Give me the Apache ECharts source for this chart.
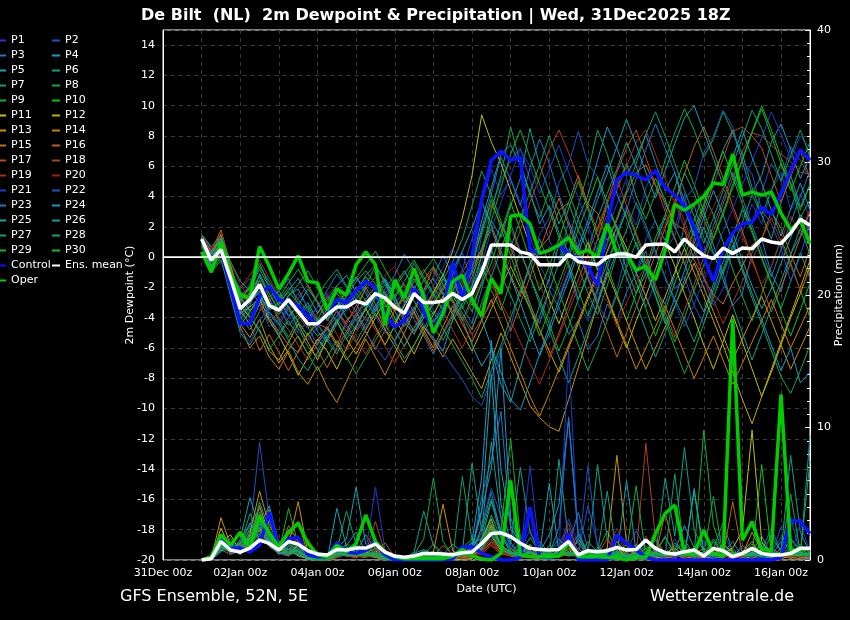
<!DOCTYPE html>
<html>
<head>
<meta charset="utf-8">
<title>De Bilt (NL) 2m Dewpoint &amp; Precipitation</title>
<script src="https://cdn.jsdelivr.net/npm/echarts@6/dist/echarts.min.js"></script>
<style>
  html, body { margin: 0; padding: 0; background: #000; }
  #chart { width: 850px; height: 620px; }
</style>
</head>
<body>
<div id="chart"></div>
<script>
// GFS ensemble meteogram: 2m dewpoint (left axis) + 6h precipitation (right axis)
// 64 steps, 6-hourly, 01Jan 00z .. 16Jan 18z; x axis = hours since 31Dec 00z

const FONT = "'DejaVu Sans', sans-serif";

const dayLabels = ['31Dec 00z', '01Jan 00z', '02Jan 00z', '03Jan 00z', '04Jan 00z', '05Jan 00z',
  '06Jan 00z', '07Jan 00z', '08Jan 00z', '09Jan 00z', '10Jan 00z', '11Jan 00z', '12Jan 00z',
  '13Jan 00z', '14Jan 00z', '15Jan 00z', '16Jan 00z'];

const memberNames = ['P1', 'P2', 'P3', 'P4', 'P5', 'P6', 'P7', 'P8', 'P9', 'P10',
  'P11', 'P12', 'P13', 'P14', 'P15', 'P16', 'P17', 'P18', 'P19', 'P20',
  'P21', 'P22', 'P23', 'P24', 'P25', 'P26', 'P27', 'P28', 'P29', 'P30'];

const memberColors = ['#1c3ccc', '#1e52c2', '#1e78c8', '#1a98c8', '#14a2b4', '#10a08a', '#10a06a', '#10a84e', '#14b036', '#10c018',
  '#c0c010', '#c0ae00', '#c89600', '#c88400', '#c07010', '#b86414', '#b44e14', '#b04020', '#a82c18', '#982018',
  '#1c3ccc', '#1e52c2', '#1e78c8', '#1a98c8', '#14a2b4', '#10a08a', '#10a06a', '#10a84e', '#14b036', '#10c018'];

// ── 2m dewpoint (°C) ──
const ctlDew  = [1.2,-0.1,0.4,-2.0,-4.4,-4.4,-2.6,-1.9, -2.8,-3.0,-3.2,-3.9,-4.5,-3.7,-2.8,-3.0, -2.2,-1.6,-2.0,-3.8,-4.6,-4.2,-2.1,-3.6, -4.8,-3.6,-0.3,-2.8,0.0,3.8,6.4,7.0, 6.4,6.6,0.5,0.25,0.45,0.8,0.2,-0.1, -0.6,-1.9,2.2,5.1,5.6,5.4,5.1,5.7, 4.6,4.1,3.4,2.0,0.0,-1.6,0.5,1.6, 2.2,2.3,3.3,2.8,4.2,5.7,7.1,6.4];
const operDew = [0.35,-1.0,1.0,-1.1,-2.5,-2.7,0.7,-0.6, -2.1,-1.1,0.1,-1.6,-1.7,-3.5,-2.1,-2.5, -0.5,0.35,-0.5,-4.5,-1.5,-2.7,-0.75,-2.6, -5.0,-3.7,-1.6,-1.2,-2.8,-3.9,-1.4,-2.4, 2.7,2.8,2.2,0.25,0.45,0.8,1.3,0.25, 0.45,0.0,2.2,0.25,0.25,-0.85,-0.6,-1.5, 0.45,3.5,3.1,3.5,4.0,4.9,4.8,6.8, 4.1,4.3,4.1,4.3,2.9,1.8,2.4,0.9];
const meanDew = [1.2,-0.2,0.5,-1.4,-3.4,-2.8,-1.8,-3.2, -3.5,-2.8,-3.6,-4.4,-4.4,-3.8,-3.3,-3.3, -2.9,-3.1,-2.4,-2.7,-3.3,-3.7,-2.4,-3.0, -3.0,-2.9,-2.4,-2.8,-2.4,-1.0,0.8,0.8, 0.8,0.35,0.2,-0.5,-0.5,-0.5,0.2,-0.3, -0.4,-0.5,0.0,0.2,0.2,0.0,0.8,0.85, 0.85,0.35,1.2,0.6,0.1,-0.1,0.6,0.25, 0.6,0.55,1.2,1.0,0.9,1.6,2.5,2.1];

const dp01 = [1.2,0.2,0.8,-1.5,-3.5,-4.2,-2.5,-3.8, -4.5,-3.2,-4.8,-5.5,-4.6,-3.9,-2.8,-3.6, -2.4,-1.8,-2.6,-3.9,-4.4,-3.1,-1.6,-2.3, -3.5,-4.2,-2.1,-0.8,1.2,3.5,5.8,4.1, 5.2,3.6,1.4,-0.5,-1.8,-2.6,-0.9,-3.1, -4.2,-2.4,0.3,1.6,3.4,2.1,4.6,5.8, 3.3,1.9,4.2,0.8,-1.4,-3.2,-2.1,0.4, 1.6,3.5,2.2,4.4,5.6,3.1,4.2,2.5];
const dp02 = [1.0,-0.4,0.6,-1.2,-2.9,-3.8,-3.1,-4.6, -4.1,-3.3,-4.2,-5.2,-6.1,-5.0,-4.2,-2.4, -1.3,-2.2,-3.4,-4.3,-3.1,-2.2,-1.0,-3.2, -4.3,-3.0,-1.2,0.3,-1.8,1.4,3.2,5.1, 6.4,7.2,5.1,3.2,1.1,-0.2,2.3,1.2, -1.3,-3.1,-4.2,-2.2,0.4,-1.1,1.2,2.4, 0.2,-2.1,-1.3,-3.2,-4.4,-2.3,-0.8,1.3, 3.1,2.2,4.3,6.2,5.1,7.3,6.4,5.2];
const dp03 = [1.5,0.6,1.1,-0.8,-2.2,-3.1,-2.0,-2.9, -2.3,-1.4,-3.2,-4.1,-3.3,-2.2,-1.1,-2.0, -3.1,-4.2,-3.4,-2.1,-1.2,0.2,-0.9,-2.4, -1.3,0.1,-1.2,-3.3,-4.4,-2.1,0.3,2.2, 1.1,-1.3,-3.2,-4.4,-2.2,-3.3,-5.1,-4.2, -6.1,-5.2,-3.1,-4.2,-2.3,-1.1,0.4,-2.2, -3.1,-1.2,2.2,3.4,1.3,0.2,-1.1,-3.2, -2.4,0.3,1.2,-1.1,-2.3,0.2,1.4,3.1];
const dp04 = [1.3,0.0,0.9,-1.9,-4.1,-3.2,-1.1,-2.4, -3.6,-2.5,-2.1,-3.4,-4.9,-5.6,-4.4,-3.1, -4.2,-3.5,-2.2,-1.4,-2.6,-4.1,-3.3,-4.6, -5.3,-6.2,-4.1,-2.2,-0.3,2.4,4.6,6.8, 7.4,6.1,4.3,2.2,3.4,1.6,0.3,2.5, 4.1,6.4,8.6,7.2,5.4,6.6,8.1,6.2, 4.4,5.6,3.2,1.4,3.3,5.2,7.1,8.4, 6.3,4.2,5.4,7.6,8.8,7.1,5.2,6.6];
const dp05 = [1.1,-0.6,0.3,-1.0,-2.6,-2.1,-0.8,-2.0, -3.2,-4.5,-3.8,-3.0,-4.2,-3.6,-2.8,-4.0, -4.8,-3.9,-2.7,-1.8,-3.0,-4.3,-5.1,-3.6, -2.4,-1.1,-2.9,-4.1,-5.8,-7.2,-6.1,-8.4, -9.6,-7.3,-5.1,-3.2,-1.4,0.8,-0.6,-2.8, -1.2,0.6,2.4,1.1,-0.8,-2.4,-1.1,0.9, 2.6,1.2,-0.4,-2.3,-3.6,-1.8,0.4,1.6, -0.2,-1.9,-3.4,-2.1,-0.4,1.3,2.8,1.7];
const dp06 = [1.4,0.3,1.3,-0.6,-2.8,-2.4,-1.5,-3.0, -3.8,-3.0,-3.6,-4.4,-5.2,-4.8,-3.5,-2.6, -1.6,-0.9,-1.8,-2.5,-3.6,-4.6,-3.4,-2.2, -1.4,-2.5,-3.6,-2.2,-1.0,0.6,2.4,1.3, 3.4,5.2,8.5,6.1,4.3,2.2,3.6,1.8, 0.4,2.6,4.2,5.8,7.6,6.0,4.1,2.3, 1.1,3.4,5.6,4.2,2.6,0.8,-1.1,0.6, 2.3,4.1,2.8,1.2,3.6,5.4,3.3,4.8];
const dp07 = [0.9,-0.8,0.4,-1.6,-3.9,-4.8,-3.6,-2.6, -2.2,-3.4,-4.7,-5.9,-6.6,-5.4,-4.1,-4.9, -5.6,-4.4,-3.2,-2.3,-3.5,-2.6,-1.4,-2.7, -3.8,-2.6,-1.5,-2.4,-3.6,-1.6,0.5,-1.2, -2.5,-4.1,-5.6,-3.9,-2.2,-0.4,1.3,-0.6, -2.4,-3.8,-1.9,0.2,1.8,3.6,2.1,0.4, -1.3,-2.8,-4.1,-5.6,-3.8,-2.1,-0.3,1.4, 3.2,1.6,-0.1,-1.8,-3.4,-1.6,0.3,-1.4];
const dp08 = [1.2,0.4,1.0,-1.1,-3.0,-1.8,-0.4,-1.9, -2.9,-2.0,-2.8,-3.6,-2.5,-1.6,-0.8,-1.9, -2.8,-1.9,-0.6,-1.7,-2.9,-3.8,-2.6,-1.5, -0.6,-1.8,-3.0,-4.2,-2.7,0.2,3.1,5.4, 8.6,6.2,4.1,2.6,4.4,3.0,1.2,3.4, 5.6,8.4,6.8,4.6,6.2,4.0,2.5,4.2, 6.4,8.2,9.8,8.4,6.6,7.8,9.6,8.2, 6.8,4.6,2.8,4.4,6.2,4.8,2.6,3.8];
const dp09 = [1.0,-0.2,0.7,-1.3,-3.3,-2.6,-1.2,-2.7, -4.2,-5.3,-4.1,-3.2,-4.4,-5.5,-6.4,-5.1, -3.9,-2.8,-1.9,-3.1,-4.3,-3.2,-2.1,-3.3, -4.6,-5.5,-4.2,-3.1,-1.9,-0.6,-2.2,-3.5, -1.6,0.4,-1.3,-2.8,-4.4,-6.2,-4.6,-2.8, -1.0,1.2,3.4,2.0,0.2,1.8,3.6,5.2, 3.8,2.0,0.6,2.4,4.2,2.8,1.0,-0.8, -2.6,-4.2,-2.4,-0.6,1.2,-0.4,-2.2,-4.0];
const dp10 = [1.3,0.1,1.2,-0.7,-2.4,-3.0,-2.2,-3.4, -3.0,-2.3,-3.0,-3.9,-4.5,-3.4,-2.4,-3.2, -2.2,-1.3,-2.2,-3.3,-2.5,-1.8,-2.9,-4.0, -3.1,-2.2,-0.9,-2.0,-3.2,-1.8,-0.4,1.6, 3.6,1.8,-0.2,-2.2,-0.6,1.2,3.2,5.0, 3.2,1.4,-0.6,-2.4,-4.2,-2.4,-0.6,1.3, 2.8,4.6,6.4,4.8,3.0,1.2,2.8,4.6, 6.4,8.2,9.8,8.0,6.2,4.4,6.0,7.6];
const dp11 = [1.1,-0.3,0.6,-2.0,-3.7,-3.3,-2.7,-4.2, -5.2,-6.4,-7.8,-6.6,-5.4,-6.2,-7.4,-6.0, -4.6,-3.4,-4.6,-5.8,-4.5,-3.2,-2.1,-3.4, -2.3,-1.2,0.4,2.6,5.4,9.4,7.6,6.2, 4.4,2.6,0.8,-1.0,-2.8,-4.4,-2.6,-0.8, 1.0,-0.8,-2.6,-4.4,-6.0,-4.2,-2.6,-0.8, 1.0,-0.6,-2.4,-4.0,-5.8,-7.4,-5.6,-3.8, -5.6,-7.4,-9.2,-7.6,-5.8,-4.0,-2.4,-0.6];
const dp12 = [1.3,0.2,1.5,-0.9,-3.2,-4.0,-4.8,-6.2, -6.8,-5.6,-4.4,-5.6,-6.8,-5.4,-4.2,-5.4, -6.4,-5.2,-4.0,-2.8,-4.0,-5.2,-6.4,-5.0, -3.8,-2.6,-3.8,-5.0,-6.2,-4.8,-3.4,-2.0, -0.6,-2.0,-3.4,-4.8,-6.2,-7.6,-6.0,-4.4, -2.8,-1.2,0.4,2.0,0.6,-1.0,-2.6,-4.2, -2.6,-1.0,0.6,-1.0,-2.6,-4.2,-5.8,-7.6, -9.4,-11.0,-9.2,-7.4,-5.6,-3.8,-2.0,-0.2];
const dp13 = [1.0,-0.5,0.2,-2.2,-4.4,-5.3,-4.1,-5.8, -7.0,-6.1,-5.2,-6.4,-5.5,-4.6,-5.7,-6.8, -5.9,-4.8,-3.7,-4.8,-5.9,-7.0,-5.8,-4.6, -5.5,-6.6,-5.4,-6.5,-7.6,-8.7,-6.8,-5.0, -6.6,-8.2,-9.8,-10.6,-11.2,-11.5,-9.4,-7.3, -5.2,-3.1,-1.0,-2.6,-4.2,-5.8,-7.4,-6.0, -4.6,-3.2,-1.8,-0.4,-2.0,-3.6,-5.2,-6.8, -5.4,-4.0,-2.6,-4.2,-5.8,-7.4,-6.0,-4.6];
const dp14 = [1.2,0.0,0.8,-1.7,-4.6,-6.0,-5.2,-6.6, -7.4,-6.2,-7.6,-8.4,-7.2,-8.6,-9.6,-8.2, -6.8,-5.4,-6.6,-7.8,-6.4,-5.0,-3.6,-4.8, -6.0,-4.6,-3.2,-4.4,-5.6,-4.2,-2.8,-4.4, -6.0,-7.6,-9.2,-10.5,-9.0,-7.4,-5.8,-4.2, -2.6,-1.0,-2.6,-4.2,-5.8,-7.4,-6.0,-4.6, -3.2,-4.8,-6.4,-8.0,-6.6,-5.2,-6.8,-8.4, -7.0,-5.6,-4.2,-2.8,-4.4,-6.0,-4.6,-3.2];
const dp15 = [1.4,0.4,1.8,-0.5,-2.7,-3.5,-2.9,-4.0, -4.9,-5.8,-6.3,-5.1,-4.4,-4.7,-5.9,-4.2, -3.5,-2.0,-3.1,-4.8,-5.5,-4.3,-3.6,-2.2, -0.7,-2.4,-3.0,-1.8,-0.6,0.5,1.9,0.1, -1.2,-2.6,-0.4,0.6,1.3,3.1,3.6,5.4, 3.5,2.9,1.1,2.4,4.2,5.6,6.1,4.7, 3.6,2.2,1.8,-0.2,-1.4,-2.5,-3.1,-1.7, -0.6,0.8,1.2,3.0,1.9,0.2,-1.3,0.6];
const dp16 = [1.0,-0.7,0.1,-1.4,-3.6,-4.4,-6.2,-5.1, -6.3,-7.5,-6.2,-5.0,-6.1,-7.3,-6.0,-4.9, -3.7,-4.9,-6.1,-4.8,-3.5,-2.4,-3.7,-5.0, -6.2,-5.0,-3.7,-2.6,-1.3,0.4,-1.4,-3.2, -4.9,-3.1,-1.3,0.5,2.2,3.9,2.1,0.4, -1.4,-3.2,-4.9,-6.6,-5.0,-3.3,-1.5,0.2, 1.9,3.7,5.5,7.3,8.6,7.0,5.2,3.4, 1.7,-0.1,-1.9,-3.6,-2.0,-0.4,1.3,3.0];
const dp17 = [1.3,0.3,1.4,-1.0,-2.5,-2.0,-3.1,-4.3, -3.6,-2.8,-3.9,-4.7,-3.8,-2.6,-3.5,-4.4, -3.2,-2.1,-1.3,-2.4,-3.6,-2.7,-1.6,-0.8, -1.9,-3.1,-2.2,-1.0,0.1,1.8,3.5,2.2, 0.6,-1.2,-3.0,-4.8,-6.6,-5.0,-3.2,-1.5, 0.2,1.9,3.7,5.6,7.2,8.4,6.6,4.8, 3.0,1.3,-0.5,1.2,3.0,4.8,6.5,8.3, 8.6,8.0,7.2,5.4,3.6,5.3,7.0,5.2];
const dp18 = [1.1,-0.1,1.0,-1.6,-3.1,-2.3,-1.6,-2.9, -4.0,-4.8,-5.8,-6.8,-5.7,-4.5,-3.6,-4.5, -5.5,-6.4,-5.2,-4.1,-3.0,-4.0,-5.1,-4.0, -2.9,-1.8,-2.8,-3.9,-5.1,-4.1,-3.0,-1.8, 0.0,1.8,3.6,5.3,7.1,8.4,6.9,5.2, 3.4,1.7,3.5,5.2,3.4,1.6,-0.1,-1.8, -3.6,-5.3,-3.5,-1.8,0.0,1.7,3.5,5.2, 7.0,8.2,8.0,7.4,6.8,6.3,5.6,5.5];
const dp19 = [1.2,0.1,0.5,-1.2,-2.0,-1.2,-0.2,-1.4, -2.5,-3.6,-2.7,-1.8,-2.9,-4.0,-5.1,-6.2, -5.0,-3.9,-4.8,-5.9,-7.0,-5.8,-4.6,-3.5, -2.4,-3.6,-4.8,-6.0,-4.6,-3.2,-1.8,-3.0, -4.2,-5.6,-7.0,-8.4,-6.8,-5.2,-3.6,-2.0, -0.4,1.2,2.8,4.4,6.0,7.6,8.4,6.8, 5.2,3.6,2.0,0.4,-1.2,-2.8,-4.4,-3.0, -1.6,-0.2,1.2,2.6,1.0,-0.6,-2.2,-0.8];
const dp20 = [1.4,0.5,1.6,-0.4,-1.8,-2.8,-3.5,-2.6, -3.4,-4.4,-5.0,-4.1,-3.7,-2.5,-1.9,-3.1, -4.2,-2.9,-2.3,-1.2,-0.6,-1.9,-2.5,-1.6, -0.8,-2.3,-3.0,-4.5,-2.9,-1.6,-0.9,0.8, 1.9,0.2,-1.1,-1.7,-3.5,-2.2,-0.4,0.7, -1.1,-2.3,-2.9,-4.6,-3.0,-1.7,-0.5,0.9, 2.1,3.8,2.4,0.6,1.9,3.3,4.6,3.1, 1.4,-0.3,-1.8,-0.6,1.1,2.7,1.5,3.2];
const dp21 = [1.0,-0.4,0.3,-2.4,-4.8,-5.6,-4.2,-3.3, -2.6,-3.8,-5.0,-4.2,-3.3,-2.4,-3.6,-4.7, -3.8,-2.7,-3.9,-5.0,-4.1,-3.0,-1.9,-2.8, -1.9,-0.7,0.6,-0.8,-2.1,-0.4,1.8,3.6, 5.4,7.1,6.0,4.2,5.8,7.4,5.6,3.9, 2.1,0.4,1.8,3.5,5.2,3.4,1.8,0.2, -1.4,-3.0,-4.6,-3.1,-1.5,0.1,1.7,3.2, 4.8,6.3,7.9,9.6,8.1,6.5,8.0,7.2];
const dp22 = [1.2,0.2,1.1,-0.9,-2.1,-1.4,-2.6,-3.7, -4.5,-3.4,-2.4,-3.3,-4.4,-5.3,-6.2,-5.2, -4.1,-5.0,-5.9,-6.8,-5.6,-4.5,-3.4,-4.4, -5.4,-6.3,-7.2,-8.1,-9.2,-9.8,-8.0,-6.1, -4.6,-2.1,-0.9,1.5,2.6,4.9,6.1,8.3, 6.2,5.3,3.0,2.1,-0.2,-1.1,-3.3,-1.6, 0.5,1.4,3.8,4.6,6.9,8.0,9.7,8.6, 6.3,5.5,3.1,2.2,0.6,-1.6,0.1,2.3];
const dp23 = [1.3,-0.1,0.9,-1.8,-3.8,-3.0,-2.3,-4.0, -5.1,-4.0,-3.1,-4.6,-5.8,-4.7,-3.9,-2.8, -3.6,-4.7,-3.5,-2.4,-1.5,-2.9,-4.1,-5.2, -6.4,-5.1,-3.9,-2.4,-0.8,1.9,4.2,6.6, 5.1,3.4,5.9,7.8,6.2,4.1,2.4,0.6, -1.3,-2.9,-0.8,1.4,3.1,5.2,7.1,8.8, 7.2,5.6,3.7,1.9,0.2,2.1,3.8,5.6, 3.9,2.1,0.4,-1.3,0.5,2.3,4.0,5.7];
const dp24 = [1.1,-0.6,0.4,-1.5,-3.4,-4.5,-3.1,-1.9, -2.8,-3.9,-3.2,-2.1,-3.0,-4.2,-3.3,-2.2, -1.3,-2.4,-3.6,-2.7,-1.8,-0.9,-2.1,-3.2, -4.3,-3.4,-2.3,-1.2,-2.6,-4.1,-5.9,-7.6, -9.4,-10.1,-8.3,-6.4,-4.6,-2.8,-1.1,0.7, 2.4,4.3,6.1,4.2,2.6,0.8,-0.9,-2.6, -4.4,-2.7,-0.9,0.9,2.6,4.4,2.8,1.0, -0.7,-2.4,-4.1,-5.8,-7.5,-6.0,-8.3,-7.6];
const dp25 = [1.2,0.2,1.2,-1.1,-2.6,-3.6,-2.5,-3.5, -3.1,-2.2,-1.4,-2.5,-3.7,-2.8,-1.9,-1.2, -2.3,-3.4,-2.6,-1.5,-2.7,-3.8,-4.9,-4.0, -3.1,-2.0,-0.9,0.4,1.9,3.7,2.1,0.4, -1.3,-3.0,-4.8,-6.5,-5.0,-3.2,-1.5,0.3, 2.0,3.8,5.5,7.3,9.1,7.4,5.6,3.9, 5.7,7.5,9.2,10.0,8.3,6.5,4.8,6.6, 8.4,6.6,4.9,3.1,1.4,3.2,4.9,3.1];
const dp26 = [0.8,-0.9,0.0,-2.6,-5.0,-5.8,-4.6,-3.6, -4.4,-5.5,-6.7,-7.5,-6.3,-5.2,-4.3,-5.4, -4.5,-3.3,-2.5,-3.6,-4.8,-5.9,-4.7,-3.8, -2.6,-1.4,-2.5,-3.7,-4.8,-3.0,-1.3,0.5, 2.2,0.4,-1.3,-3.1,-4.8,-6.6,-8.3,-6.6, -4.8,-3.1,-1.3,0.4,-1.3,-3.1,-4.8,-6.6, -5.0,-3.3,-1.5,0.2,2.0,0.3,-1.5,-3.2, -5.0,-6.8,-5.1,-3.3,-1.6,0.2,1.9,0.2];
const dp27 = [1.5,0.7,1.4,-0.3,-1.6,-2.2,-1.3,-2.4, -3.5,-2.6,-1.8,-0.9,-2.0,-3.2,-4.3,-3.4, -2.3,-1.2,-0.5,-1.6,-2.7,-1.6,-0.4,-1.5, -2.6,-1.5,-0.3,1.2,3.4,5.7,4.1,2.4, 0.6,2.5,4.3,6.1,8.0,6.2,4.3,2.5, 0.8,-0.9,0.9,2.6,4.4,6.2,8.1,9.6, 8.0,6.2,4.4,2.7,0.9,2.6,4.4,6.1, 7.9,9.7,8.5,6.8,5.0,6.7,8.4,6.6];
const dp28 = [1.1,-0.3,0.7,-1.4,-3.2,-3.9,-4.9,-6.1, -5.2,-4.2,-5.3,-6.4,-7.5,-6.6,-5.5,-6.6, -7.7,-6.6,-5.5,-4.4,-5.6,-6.7,-5.8,-4.7, -3.6,-4.7,-5.8,-6.9,-8.0,-9.3,-7.5,-5.8, -4.0,-2.3,-0.5,1.2,-0.5,-2.3,-4.0,-5.8, -7.5,-6.0,-4.2,-2.5,-0.7,1.0,-0.7,-2.5, -4.2,-6.0,-7.7,-6.2,-4.4,-2.7,-0.9,0.8, -0.9,-2.7,-4.4,-6.2,-7.9,-9.0,-7.5,-5.8];
const dp29 = [1.3,0.0,1.0,-1.2,-2.9,-2.0,-0.6,-1.6, -2.7,-1.7,-0.8,-1.9,-3.0,-4.1,-3.2,-2.3, -1.4,-0.5,0.4,-0.8,-1.9,-3.0,-2.1,-1.0, -0.1,-1.2,-2.3,-3.4,-1.9,0.1,2.4,4.6, 6.8,8.4,6.6,4.8,3.1,1.3,-0.4,-2.2, -3.9,-2.1,-0.4,1.4,3.1,1.4,-0.4,-2.1, -3.9,-5.6,-4.0,-2.2,-0.5,1.3,3.0,4.8, 6.5,8.3,10.0,8.4,6.6,4.9,3.1,4.8];
const dp30 = [0.9,-1.0,-0.2,-2.3,-4.5,-3.6,-2.8,-1.8, -2.5,-3.3,-4.3,-5.2,-4.1,-3.0,-2.1,-3.1, -2.0,-2.9,-3.9,-3.0,-2.0,-1.1,-0.2,-1.3, -2.4,-3.5,-2.6,-1.5,-0.3,1.6,3.8,1.9, 0.1,-1.7,-3.4,-5.2,-3.5,-1.7,0.0,1.8, 3.5,5.3,3.6,1.8,0.1,-1.7,-3.4,-5.2, -3.5,-1.7,0.0,1.8,3.5,5.3,7.0,5.3, 3.5,1.8,0.0,-1.7,-3.5,-5.2,-3.5,-1.7];

// ── 6h precipitation (mm) ──
const ctlPrec  = [0,0.1,1.6,0.9,0.9,0.6,1.1,3.6, 0.9,1.6,1.7,0.4,0.25,0.25,1.3,0.6, 0.5,0.75,1.4,0.4,0,0,0,0, 0,0,0.1,1.0,1.0,0.5,0.25,0, 0,0.2,4.0,0.2,0.2,0.3,2.0,0, 0,0,0,1.9,1.26,0.75,0.2,0, 0,0,0,0,0,0,0,0, 0,0,0,0,0.2,3.0,2.9,2.0];
const operPrec = [0,0.25,1.9,1.1,2.1,0.9,3.3,2.0, 1.0,2.1,2.8,1.25,0.4,0.25,1.1,0.6, 1.25,3.4,1.4,0.6,0.25,0.1,0.1,0.1, 0.1,0.1,0.3,0.8,0.3,0.1,0,0.5, 6.0,0.4,0.25,0.25,0.25,0.3,1.26,0.25, 0.25,0.25,0.2,0.2,0,0.25,0.2,2.0, 3.5,4.15,0.5,0.5,2.26,0.5,0.25,18.2, 1.5,2.9,0.75,0.75,12.5,0.75,0.75,0.88];
const meanPrec = [0,0.1,1.4,0.75,0.6,0.9,1.5,1.25, 0.75,1.4,1.2,0.7,0.45,0.38,0.8,0.75, 0.9,0.9,1.2,0.6,0.3,0.2,0.3,0.5, 0.5,0.45,0.4,0.55,0.6,1.25,2.0,2.05, 1.76,1.26,0.88,0.8,0.75,0.8,1.4,0.38, 0.7,0.63,0.7,0.95,0.75,0.8,1.5,0.88, 0.55,0.45,0.63,0.75,0.3,0.88,0.7,0.25, 0.5,0.88,0.5,0.38,0.38,0.5,0.88,0.88];

const pr01 = [0,0,1.2,0.5,0.8,1.5,2.2,1.1, 0.4,1.0,1.8,0.3,0,0.1,0.6,0.9, 0.5,0.3,1.2,0.2,0,0,0,0.2, 0.4,0.1,0,0.3,0.5,1.8,3.2,2.4, 1.1,0.6,2.3,0.4,0,0.8,3.1,1.2, 0.3,0,0.5,1.8,0.6,0,0.2,0.9, 0.4,1.6,0.3,0,0,0.7,2.1,0.5, 0,0.3,1.2,0.4,0,2.6,3.1,1.8];
const pr02 = [0,0.1,0.9,1.3,0.6,2.1,8.9,3.2, 0.7,1.5,0.9,0.2,0,0,0.4,0.5, 1.1,0.6,0.2,0,0,0,0.1,0, 0,0.3,0.6,0.2,0.1,2.6,5.4,3.3, 0.8,1.9,0.5,0.2,0.6,1.3,2.4,0.5, 4.1,1.2,0.1,0,0.6,2.2,0.8,0.3, 0,0.1,0.8,0.4,1.5,0.4,0,0.2, 0.9,0.3,0,0.6,1.7,0.5,0.2,0];
const pr03 = [0,0,1.8,0.6,1.4,2.6,3.9,1.6, 0.5,0.3,1.2,0.6,0.2,0,0.8,0.3, 0.2,0.9,1.6,0.4,0.1,0,0,0.3, 0.6,0.2,0,0,0.4,4.8,7.6,11.2, 2.4,0.6,0.2,1.4,0.5,0.2,1.1,3.6, 0.8,0.2,0,0.4,1.2,0.3,0,0.6, 1.8,0.4,0.1,0.9,0.3,0,0.5,1.4, 0.2,0,0.7,2.4,0.6,0.1,0.9,0.3];
const pr04 = [0,0.1,1.1,0.9,0.4,1.2,2.6,4.1, 1.3,0.4,0.6,0.1,0,0.2,0.5,1.1, 2.1,0.6,0.2,0,0,0.2,0.4,0.1, 0,0.4,1.2,0.6,1.4,6.2,16.6,6.8, 2.6,1.1,0.3,0.6,1.9,4.2,10.6,2.1, 0.5,0.2,0.9,0.4,0,0.3,1.6,0.6, 0.2,0.7,2.6,0.9,0.3,0.1,0.4,0.2, 1.1,0.5,0,0.3,1.4,0.9,0.2,0.6];
const pr05 = [0,0,0.8,0.4,1.6,4.7,2.4,1.2, 0.6,1.1,0.4,0.1,0,0,0.9,1.6, 5.5,1.2,0.4,0.1,0,0,0.3,0.7, 0.2,0,0.1,0.5,0.9,3.6,14.0,4.2, 1.3,0.4,1.2,0.2,0,0.6,1.4,0.5, 0.2,0.9,0.3,0,0.5,1.2,0.4,0.1, 0.3,1.1,0.6,0.2,0,0.4,0.9,0.3, 0.1,0.6,1.8,0.4,0.2,0.8,0.5,0.1];
const pr06 = [0,0,1.5,0.8,0.5,1.9,3.1,2.0, 0.9,2.3,1.6,0.5,0.1,0,0.4,0.8, 0.6,1.9,0.8,0.2,0,0.1,0.6,3.7, 1.1,0.3,0.2,0.6,7.3,2.2,8.9,3.1, 1.2,7.0,2.1,0.6,0.2,7.6,1.4,0.5, 0.3,7.2,1.6,0.4,0.2,0.5,1.1,0.3, 6.2,1.8,8.5,2.3,0.6,0.2,1.2,0.4, 0.2,0.9,0.3,0.1,0.6,7.9,2.1,0.5];
const pr07 = [0,0,1.2,1.6,0.9,2.4,1.5,3.0, 0.7,0.4,1.3,0.2,0,0.1,1.4,0.6, 0.3,0.2,0.9,0.5,0.1,0,0.2,0.4, 1.2,0.5,0.1,6.3,1.5,0.8,2.6,1.9, 0.6,1.3,0.4,0.2,0.7,1.6,0.5,0.2, 1.4,0.6,0.2,0.9,0.3,0.1,0.6,1.5, 0.4,0.2,1.1,0.5,0.3,0.9,2.8,0.6, 0.2,0.4,1.3,0.6,0.2,1.1,0.4,0.2];
const pr08 = [0,0.2,1.4,0.6,1.1,3.5,2.1,1.4, 0.8,1.7,0.6,0.2,0,0,0.7,3.7, 1.2,0.5,0.3,0.1,0,0.1,0.4,1.6, 6.2,1.4,0.3,0.2,0.6,1.2,3.4,1.6, 0.9,0.4,1.7,0.6,0.2,0.4,1.3,0.5, 0.2,0.6,2.2,0.7,0.3,0.1,0.9,0.4, 0.2,1.3,0.5,0.2,0.4,1.6,0.6,0.2, 0.3,0.8,0.4,1.9,0.6,0.3,1.2,0.5];
const pr09 = [0,0,0.9,1.4,0.7,1.7,2.8,1.3, 0.6,3.9,1.2,0.4,0,0,0.3,0.8, 0.4,0.7,1.1,0.3,0,0,0.1,0.3, 0.5,0.2,0,0.3,0.8,2.1,4.6,2.2, 9.2,1.6,0.5,0.2,1.1,0.4,0.8,1.9, 0.5,0.2,0.6,1.4,0.3,0,0.4,0.8, 0.2,0.6,1.5,0.4,9.8,2.6,0.5,0.3, 0.4,1.2,0.5,0.2,0.9,1.6,0.6,0.3];
const pr10 = [0,0.1,1.6,0.7,1.3,2.2,3.6,1.8, 1.0,1.4,0.5,0.1,0,0,0.6,1.2, 0.8,0.4,1.3,0.4,0,0,0,0.2, 0.4,0.1,0.2,0.9,1.6,0.7,2.1,1.2, 0.5,0.9,0.3,1.1,0.4,0.2,0.6,1.4, 0.3,0.8,0.2,0.5,1.2,0.4,0.1,0.6, 1.7,0.5,0.2,5.2,0.3,1.4,0.5,0.8, 0.2,0.6,1.1,0.4,0.3,1.6,0.8,0.4];
const pr11 = [0,0,2.4,0.8,0.5,1.6,2.4,1.4, 0.6,0.4,1.1,0.2,0,0,0.3,0.5, 0.2,0.6,0.3,0.1,0,0,0,0.1, 0.2,0.4,0.1,0,0.3,0.8,2.6,1.1, 0.5,0.2,0.6,0.3,0.1,0.5,1.2,0.4, 0.2,0,0.4,0.9,0.3,0.1,0.6,0.2, 0.1,0.4,0.2,0.6,0.3,0.1,0.5,0.9, 2.2,9.8,1.4,0.3,0.2,0.6,0.3,0.1];
const pr12 = [0,0,1.3,1.9,0.6,1.1,3.4,2.2, 0.5,0.8,0.3,0.1,0,0,0.2,0.6, 0.3,0.2,0.7,0.2,0,0,0.1,0.2, 0.1,0.3,0.5,0.2,0.1,1.6,3.1,0.9, 0.4,0.6,0.2,0.1,0.3,0.7,0.4,1.6, 0.5,0.2,0.1,0.3,0.8,0.4,0.2,0.1, 0.5,0.9,0.3,0.1,0.2,0.4,1.2,0.6, 0.3,0.1,0.5,0.2,0.1,0.3,0.6,0.2];
const pr13 = [0,0.1,3.2,1.1,0.8,2.0,5.2,2.6, 1.4,1.2,4.4,0.6,0.1,0,0.4,0.9, 0.6,0.3,0.2,0.1,0,0,0.2,0.4, 0.6,4.2,0.7,0.3,0.2,0.9,1.8,0.7, 0.3,0.5,1.1,0.4,0.2,0.3,0.6,0.2, 0.1,0.4,0.9,7.9,1.3,0.4,0.2,0.5, 0.3,0.1,0.6,0.3,0.2,0.8,0.4,0.1, 0.6,1.4,0.3,0.2,0.5,0.2,0.1,0.4];
const pr14 = [0,0,1.9,0.7,1.5,1.3,4.1,1.9, 0.8,1.6,2.9,0.4,0,0.1,0.6,0.4, 0.2,0.5,0.9,0.3,0.1,0,0,0.2, 0.3,0.1,0.4,0.2,0.5,1.1,2.3,0.8, 0.4,0.2,0.7,0.3,0.1,0.5,0.3,0.9, 0.2,0.6,0.3,0.1,0.4,0.2,0.5,0.3, 0.1,0.6,0.2,0.4,0.9,0.3,0.1,0.6, 0.4,2.1,0.6,0.2,0.3,0.7,0.2,0.1];
const pr15 = [0,0,1.1,0.5,0.9,1.8,2.9,3.8, 1.1,0.6,0.9,0.3,0,0,0.2,0.5, 0.4,0.8,0.2,0.1,0,0,0.1,0.3, 0.2,0.5,0.2,0.1,0.4,0.6,1.4,0.5, 0.3,0.1,0.4,0.8,0.3,0.2,0.5,0.3, 0.1,0.3,0.6,0.2,0.1,0.4,0.9,0.3, 3.6,0.5,0.1,0.3,0.6,0.2,0.4,0.1, 0.3,0.6,0.2,0.9,0.4,0.1,0.3,0.5];
const pr16 = [0,0,0.7,1.2,0.4,1.4,2.2,1.0, 0.5,2.6,1.4,0.2,0,0,0.5,0.3, 0.2,0.4,0.6,0.2,0,0,0,0.1, 0.3,1.1,0.4,0.2,0.3,1.4,2.7,1.0, 0.5,0.3,0.2,0.6,0.4,0.2,0.9,0.4, 0.2,0.5,0.3,1.4,0.6,0.2,0.4,0.3, 0.2,0.4,0.7,0.3,0.1,0.5,0.3,4.4, 0.4,0.8,0.3,0.5,0.2,0.4,0.9,0.6];
const pr17 = [0,0,1.4,0.9,0.6,1.2,3.3,1.5, 0.9,0.5,1.8,0.3,0,0,0.3,0.6, 0.5,0.2,0.4,1.3,0.2,0,0.1,0.2, 0.4,0.2,0.1,0.3,0.2,0.7,1.6,0.6, 0.8,0.3,0.5,0.2,0.4,0.3,0.8,0.6, 0.2,0.4,1.6,0.5,0.3,0.8,0.4,0.2, 0.6,0.3,0.2,0.4,0.5,0.2,0.6,0.3, 0.2,0.5,0.3,0.7,0.4,0.2,0.5,0.3];
const pr18 = [0,0,1.0,0.6,1.2,0.9,2.5,1.9, 0.6,0.3,0.8,1.6,0.4,0,0.2,0.4, 0.3,0.6,2.9,0.5,0.1,0,0,0.3, 0.2,0.4,0.1,0.2,0.6,0.4,1.2,0.5, 0.3,0.6,0.2,0.4,0.3,0.7,0.5,0.2, 0.4,0.3,0.6,0.2,0.5,0.4,8.8,1.6, 0.5,0.3,0.6,0.2,0.4,0.3,0.2,0.6, 0.5,0.2,0.4,0.3,0.6,0.2,0.4,0.3];
const pr19 = [0,0,0.8,0.4,0.7,1.1,1.8,1.2, 0.4,0.9,0.5,0.2,0,0,0.6,0.3, 0.2,0.5,0.3,0.1,0,0,0.2,0.4, 0.1,0.2,0.3,0.1,0.2,0.5,1.1,0.4, 0.6,0.2,0.9,0.3,0.1,0.4,2.8,0.5, 0.2,0.4,0.3,0.6,0.2,0.5,1.8,0.4, 0.3,0.2,0.5,0.3,0.6,0.2,0.4,0.3, 0.2,0.6,0.3,0.5,0.2,0.4,0.3,0.2];
const pr20 = [0,0,1.6,0.5,0.9,0.7,2.0,1.6, 0.7,0.4,0.6,0.3,0.1,0,0.3,0.7, 0.4,0.2,0.5,0.2,0,0,0,0.1, 0.3,0.2,0.1,0.4,0.3,0.6,1.3,0.7, 0.3,0.5,0.4,0.2,0.6,0.3,0.5,0.4, 0.2,0.3,0.5,2.4,0.6,0.3,0.2,0.4, 0.3,0.6,0.2,0.5,0.3,0.4,0.2,0.3, 0.6,0.3,0.5,0.2,0.4,0.3,0.2,0.5];
const pr21 = [0,0,1.0,0.8,1.5,1.3,2.6,2.1, 0.8,0.5,0.9,0.3,0,0,0.5,0.8, 0.4,0.6,5.5,0.7,0.2,0,0.1,0.2, 0.3,0.1,0.2,0.5,0.4,1.0,2.2,0.9, 0.5,0.3,7.1,0.6,0.3,0.4,15.8,1.2, 0.4,0.2,0.5,0.3,0.6,0.2,0.4,0.3, 0.5,0.2,0.4,0.6,0.3,0.2,0.5,0.4, 0.3,0.6,0.2,0.4,0.5,0.3,2.8,0.6];
const pr22 = [0,0,0.6,1.0,0.8,0.6,1.9,1.3, 0.5,0.7,0.4,0.2,0,0,0.3,0.4, 0.6,0.3,0.8,0.2,0,0.1,0.2,0.3, 0.1,0.4,0.2,0.3,0.5,0.8,1.8,1.1, 0.4,0.6,0.3,0.5,0.2,0.6,0.4,0.3, 7.1,0.9,0.3,0.5,0.2,0.4,0.6,0.3, 0.2,0.5,0.3,0.4,0.6,0.2,0.3,0.5, 0.4,0.2,0.6,0.3,2.5,3.2,0.5,0.3];
const pr23 = [0,0,1.3,0.5,0.6,0.9,2.3,1.7, 0.6,0.4,1.0,0.3,0.1,0,0.4,0.6, 0.3,0.7,0.4,0.1,0,0,0.1,0.4, 0.2,0.3,0.1,0.4,0.8,2.4,5.1,2.0, 0.9,0.4,0.7,0.3,0.5,2.4,10.8,1.6, 0.5,0.3,0.6,0.4,0.2,0.5,0.3,0.7, 0.4,0.3,0.6,0.2,0.5,0.3,0.4,0.6, 0.3,0.5,0.2,0.4,0.3,0.6,0.4,0.2];
const pr24 = [0,0.1,0.9,1.2,0.5,1.5,3.0,1.4, 0.7,0.9,0.6,0.2,0,0,0.5,0.3, 0.4,0.5,0.3,0.2,0,0,0.3,0.6, 0.3,0.2,0.5,0.4,1.1,3.8,6.9,16.0, 3.2,1.1,0.6,0.3,0.8,0.4,0.6,0.3, 0.5,0.4,0.3,0.6,0.2,0.4,0.5,0.3, 0.6,0.4,0.3,5.4,0.7,0.3,0.5,0.4, 0.3,0.6,0.4,0.2,0.5,0.4,0.3,0.6];
const pr25 = [0,0,0.7,0.9,1.2,2.8,1.6,1.1, 0.5,0.6,0.4,0.1,0,0,3.9,1.0, 0.6,0.3,0.5,0.2,0.1,0,0.4,0.5, 0.6,0.3,0.2,0.6,1.3,1.6,4.4,1.8, 0.6,0.4,0.3,0.5,5.8,0.6,0.4,0.5, 0.3,0.5,0.4,0.3,6.0,0.6,0.4,0.3, 0.5,0.3,0.6,0.4,0.3,0.5,0.3,0.4, 0.6,0.4,0.3,0.5,0.4,0.3,0.6,0.4];
const pr26 = [0,0,1.1,0.6,0.9,1.7,2.5,1.6, 0.8,0.5,0.7,0.2,0,0,0.6,0.7, 0.5,0.4,0.3,0.2,0,0.1,0.5,0.8, 0.4,0.3,0.2,0.5,0.6,1.4,2.9,1.2, 0.5,0.3,0.6,0.4,0.5,0.3,0.6,0.4, 0.3,0.6,5.2,0.4,0.3,0.6,0.4,0.5, 0.3,0.6,0.4,0.5,0.3,0.4,0.6,0.3, 0.5,0.4,0.3,0.6,0.4,0.5,0.3,9.4];
const pr27 = [0,0,1.5,0.8,0.7,1.4,4.4,2.3, 1.0,1.2,0.6,0.2,0,0,0.5,0.9, 0.4,0.3,0.6,0.2,0,0,0.2,0.3, 0.4,0.2,0.3,0.4,0.5,1.2,2.4,1.0, 0.6,0.4,0.5,0.3,0.6,0.4,0.5,0.3, 0.4,0.5,0.3,0.6,0.4,0.3,0.5,0.4, 0.3,6.5,0.4,0.3,0.6,0.4,0.3,0.5, 0.4,0.3,0.5,0.4,0.3,0.6,0.4,7.5];
const pr28 = [0,0,1.2,0.7,1.0,1.9,2.7,1.8, 0.7,0.8,0.5,0.3,0.1,0,0.4,0.6, 0.5,0.4,0.3,0.1,0,0,0.1,0.4, 0.5,0.3,0.2,0.3,0.4,1.1,2.0,0.8, 0.5,0.6,0.3,0.4,0.5,0.3,0.6,0.4, 0.5,0.3,0.4,0.6,0.3,0.5,0.4,0.3, 0.6,0.4,0.5,0.3,0.4,4.8,0.3,0.5, 0.4,0.5,0.3,0.6,0.4,5.0,0.5,0.4];
const pr29 = [0,0,0.8,1.1,0.6,1.2,2.0,1.5, 0.6,0.4,0.8,0.2,0,0,0.3,0.5, 0.4,0.3,0.5,0.2,0,0,0.1,0.2, 0.3,0.2,0.4,0.3,0.6,0.9,1.9,0.8, 0.4,0.3,0.5,0.4,0.3,0.5,0.4,0.6, 0.3,0.4,0.5,0.3,0.6,5.6,0.3,0.5, 0.4,0.6,0.3,0.5,0.4,0.3,0.6,0.4, 0.3,0.5,0.4,0.6,0.3,0.5,0.4,0.3];
const pr30 = [0,0,1.0,0.6,1.3,1.6,2.3,1.2, 0.9,0.6,0.7,0.2,0,0,0.5,0.4, 0.3,0.5,0.4,0.1,0,0,0.2,0.3, 0.4,0.3,0.2,0.4,0.5,1.3,2.5,1.1, 0.6,0.4,0.3,0.5,0.4,0.6,0.3,0.4, 0.5,0.3,0.6,0.4,0.3,0.5,0.4,0.6, 0.3,0.4,0.6,0.3,0.5,0.4,0.3,0.6, 0.4,0.3,7.2,0.4,0.6,0.3,0.4,0.5];

const memberDew  = [dp01, dp02, dp03, dp04, dp05, dp06, dp07, dp08, dp09, dp10, dp11, dp12, dp13, dp14, dp15,
                    dp16, dp17, dp18, dp19, dp20, dp21, dp22, dp23, dp24, dp25, dp26, dp27, dp28, dp29, dp30];
const memberPrec = [pr01, pr02, pr03, pr04, pr05, pr06, pr07, pr08, pr09, pr10, pr11, pr12, pr13, pr14, pr15,
                    pr16, pr17, pr18, pr19, pr20, pr21, pr22, pr23, pr24, pr25, pr26, pr27, pr28, pr29, pr30];

// lead time of each step in hours since 31Dec 00z (first step = 01Jan 00z, 6-hourly)
const HOURS = ctlDew.map((_, i) => 24 + 6 * i);

const WHITE = '#ffffff';
const GRID = '#3c3c34';

function lineSeries(name, values, yIdx, color, width, z) {
  return {
    name: name,
    type: 'line',
    yAxisIndex: yIdx,
    data: values.map((v, i) => [HOURS[i], v]),
    color: color,
    symbol: 'none',
    showSymbol: false,
    lineStyle: { width: width, color: color },
    silent: true,
    animation: false,
    z: z,
  };
}

const series = [];
memberNames.forEach((n, k) => series.push(lineSeries(n, memberDew[k], 0, memberColors[k], 1, 2)));
memberNames.forEach((n, k) => series.push(lineSeries(n, memberPrec[k], 1, memberColors[k], 1, 2)));

const ctlD = lineSeries('Control', ctlDew, 0, '#0a14ff', 3.5, 3);
ctlD.markLine = {
  silent: true, symbol: 'none', animation: false, label: { show: false },
  lineStyle: { color: WHITE, width: 1.5, type: 'solid' },
  data: [{ yAxis: 0 }],
};
series.push(ctlD);
series.push(lineSeries('Control', ctlPrec, 1, '#0a14ff', 3.5, 3));
series.push(lineSeries('Oper', operDew, 0, '#00cc00', 3.5, 4));
series.push(lineSeries('Oper', operPrec, 1, '#00cc00', 3.5, 4));
series.push(lineSeries('Ens. mean', meanDew, 0, WHITE, 3.5, 5));
series.push(lineSeries('Ens. mean', meanPrec, 1, WHITE, 3.5, 5));

const legendBase = {
  orient: 'vertical', top: 34, padding: 0, itemGap: 2,
  itemWidth: 8, itemHeight: 2, icon: 'rect', selectedMode: false,
  textStyle: { color: WHITE, fontSize: 11, lineHeight: 13, fontFamily: FONT },
};

const option = {
  backgroundColor: '#000000',
  textStyle: { fontFamily: FONT },
  animation: false,
  title: {
    text: 'De Bilt  (NL)  2m Dewpoint & Precipitation | Wed, 31Dec2025 18Z',
    left: 136, top: 3,
    textStyle: { color: WHITE, fontSize: 16, fontWeight: 'bold', fontFamily: FONT },
  },
  legend: [
    Object.assign({}, legendBase, { left: -2, data: memberNames.filter((_, k) => k % 2 === 0).concat(['Control', 'Oper']) }),
    Object.assign({}, legendBase, { left: 52, data: memberNames.filter((_, k) => k % 2 === 1).concat(['Ens. mean']) }),
  ],
  grid: {
    left: 163, right: 40, top: 30, bottom: 60,
    outerBoundsMode: 'none', containLabel: false,
    show: true, borderColor: WHITE, borderWidth: 1,
  },
  xAxis: {
    type: 'value', min: 0, max: 402, interval: 24,
    name: 'Date (UTC)', nameLocation: 'middle', nameGap: 24, nameMoveOverlap: false,
    nameTextStyle: { color: WHITE, fontSize: 11, fontFamily: FONT },
    axisLine: { lineStyle: { color: WHITE } },
    axisTick: { show: false },
    axisLabel: {
      color: WHITE, fontSize: 11, fontFamily: FONT, showMaxLabel: false,
      formatter: (v) => { const d = v / 24; return (d % 2 === 0 && dayLabels[d]) ? dayLabels[d] : ''; },
    },
    splitLine: { show: true, lineStyle: { color: GRID, type: [4, 4], width: 1 } },
  },
  yAxis: [
    {
      type: 'value', min: -20, max: 15, interval: 2, position: 'left',
      name: '2m Dewpoint (°C)', nameLocation: 'middle', nameGap: 27, nameRotate: 90, nameMoveOverlap: false,
      nameTextStyle: { color: WHITE, fontSize: 11, fontFamily: FONT },
      axisLine: { show: true, lineStyle: { color: WHITE } },
      axisTick: { show: false },
      axisLabel: { color: WHITE, fontSize: 11, fontFamily: FONT, showMaxLabel: false },
      splitLine: { show: true, lineStyle: { color: GRID, type: [4, 4], width: 1 } },
    },
    {
      type: 'value', min: 0, max: 40, interval: 10, position: 'right',
      name: 'Precipitation (mm)', nameLocation: 'middle', nameGap: 24, nameRotate: 90, nameMoveOverlap: false,
      nameTextStyle: { color: WHITE, fontSize: 11, fontFamily: FONT },
      axisLine: { show: true, lineStyle: { color: WHITE } },
      axisTick: { show: true, inside: true, length: 5, lineStyle: { color: WHITE } },
      minorTick: { show: true, splitNumber: 10, length: 3, lineStyle: { color: WHITE } },
      axisLabel: { color: WHITE, fontSize: 11, fontFamily: FONT, margin: 7 },
      splitLine: { show: false },
    },
  ],
  graphic: [
    { type: 'text', left: 120, top: 589, style: { text: 'GFS Ensemble, 52N, 5E', fill: WHITE, fontSize: 16, fontFamily: FONT } },
    { type: 'text', left: 650, top: 589, style: { text: 'Wetterzentrale.de', fill: WHITE, fontSize: 16, fontFamily: FONT } },
  ],
  series: series,
};

const chart = echarts.init(document.getElementById('chart'), null, { renderer: 'canvas' });
chart.setOption(option);
</script>
</body>
</html>
